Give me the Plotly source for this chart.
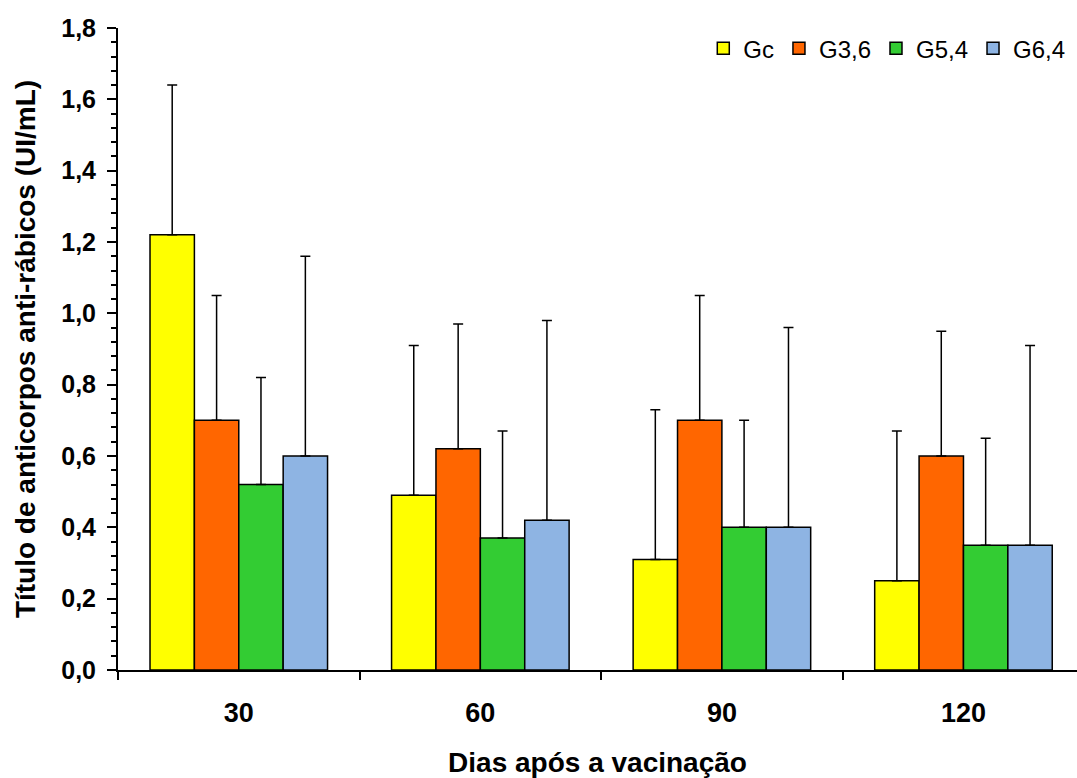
import plotly.graph_objects as go

categories = ["30", "60", "90", "120"]
series_names = ["Gc", "G3,6", "G5,4", "G6,4"]
colors = ["#FFFF00", "#FF6600", "#33CC33", "#8EB4E3"]
gc = [1.22, 0.49, 0.31, 0.25]
g36 = [0.70, 0.62, 0.70, 0.60]
g54 = [0.52, 0.37, 0.40, 0.35]
g64 = [0.60, 0.42, 0.40, 0.35]
err_gc = [0.42, 0.42, 0.42, 0.42]
err_g36 = [0.35, 0.35, 0.35, 0.35]
err_g54 = [0.30, 0.30, 0.30, 0.30]
err_g64 = [0.56, 0.56, 0.56, 0.56]
y_ticks = [0, 0.2, 0.4, 0.6, 0.8, 1.0, 1.2, 1.4, 1.6, 1.8]
y_tick_labels = ["0,0", "0,2", "0,4", "0,6", "0,8", "1,0", "1,2", "1,4", "1,6", "1,8"]

values = [gc, g36, g54, g64]
errors = [err_gc, err_g36, err_g54, err_g64]

FONT = "Liberation Sans, Arial, sans-serif"

fig = go.Figure()
for name, col, v, e in zip(series_names, colors, values, errors):
    fig.add_trace(go.Bar(
        x=categories, y=v, name=name,
        marker=dict(color=col, line=dict(color="black", width=1.5)),
        error_y=dict(type="data", array=e, arrayminus=[0] * len(e), symmetric=False,
                     color="black", thickness=1.5, width=5),
    ))

fig.update_layout(
    width=1077, height=778,
    margin=dict(l=118, r=0, t=28, b=108),
    paper_bgcolor="white", plot_bgcolor="white",
    barmode="group", bargap=0.265, bargroupgap=0,
    font=dict(family=FONT, color="black"),
    showlegend=True,
    legend=dict(orientation="h", x=0.993, xanchor="right", y=1.003, yanchor="top",
                font=dict(size=24), itemwidth=30, traceorder="normal",
                bgcolor="rgba(0,0,0,0)"),
    xaxis=dict(
        type="category", range=[-0.5, 3.47],
        showline=True, linecolor="black", linewidth=2,
        ticks="outside", tickson="boundaries", ticklen=8, tickwidth=1.5, tickcolor="black",
        tickfont=dict(size=27, family=FONT),
        ticklabelstandoff=18,
        tickvals=categories,
        ticktext=["<b>" + c + "</b>" for c in categories],
        title=dict(text="<b>Dias após a vacinação</b>", font=dict(size=28), standoff=28),
        showgrid=False, zeroline=False,
    ),
    yaxis=dict(
        range=[0, 1.8], tickvals=y_ticks,
        ticktext=["<b>" + t + "</b>" for t in y_tick_labels],
        showline=True, linecolor="black", linewidth=2,
        ticks="outside", ticklen=9, tickwidth=1.5, tickcolor="black",
        tickfont=dict(size=25),
        ticklabelstandoff=6,
        minor=dict(dtick=0.04, ticks="outside", ticklen=5, tickwidth=1.5, tickcolor="black", showgrid=False),
        title=dict(text="<b>Título de anticorpos anti-rábicos (UI/mL)</b>", font=dict(size=28), standoff=17),
        showgrid=False, zeroline=False,
    ),
)

fig.write_html("out.html")
